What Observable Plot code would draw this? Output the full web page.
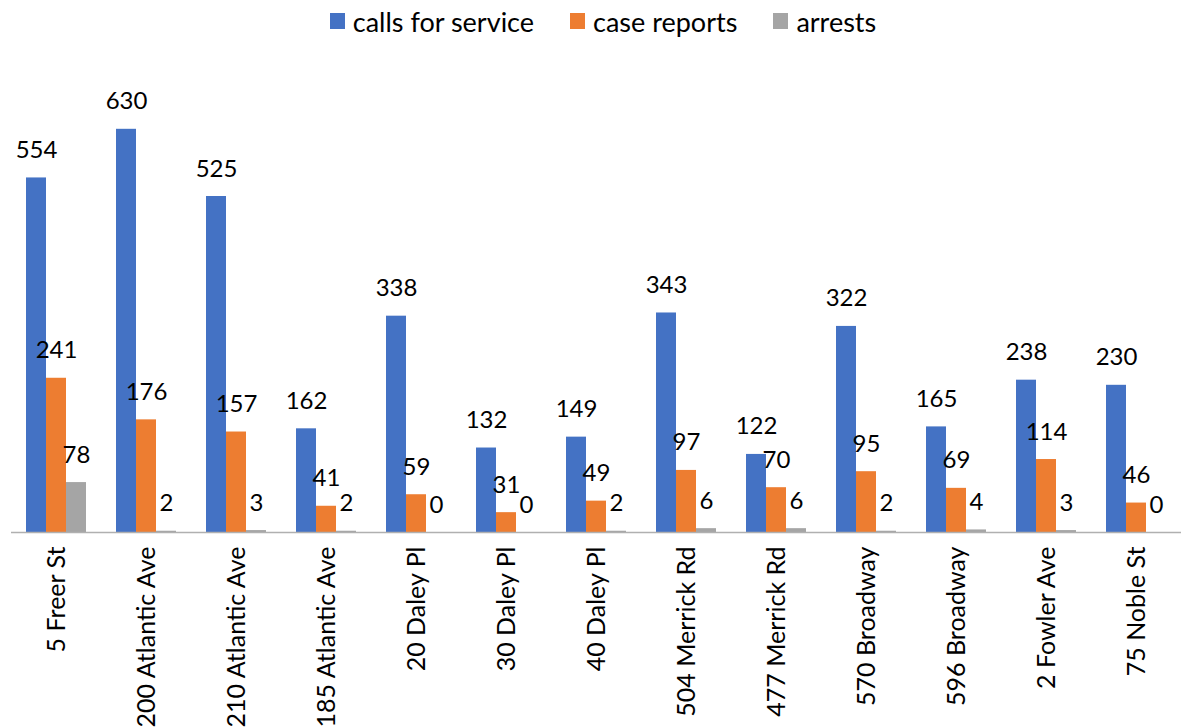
<!DOCTYPE html>
<html>
<head>
<meta charset="utf-8">
<script src="https://cdn.jsdelivr.net/npm/d3@7"></script>
<script src="https://cdn.jsdelivr.net/npm/@observablehq/plot@0.6"></script>
<style>
  html, body { margin: 0; padding: 0; background: #fff; }
  body { width: 1182px; height: 728px; overflow: hidden; font-family: Lato, "Open Sans", sans-serif; }
  #legend { height: 45px; display: flex; justify-content: center; align-items: center; padding-left: 24px; box-sizing: border-box; padding-bottom: 3px; }
  .item { display: flex; align-items: center; margin: 0 18px; font-size: 27px; color: #000; }
  .sw { width: 15px; height: 16px; margin-right: 8px; }
  #chart svg { display: block; }
</style>
</head>
<body>
<div id="legend"></div>
<div id="chart"></div>
<script>
const categories = ["5 Freer St","200 Atlantic Ave","210 Atlantic Ave","185 Atlantic Ave","20 Daley Pl","30 Daley Pl","40 Daley Pl","504 Merrick Rd","477 Merrick Rd","570 Broadway","596 Broadway","2 Fowler Ave","75 Noble St"];
const callsForService = [554,630,525,162,338,132,149,343,122,322,165,238,230];
const caseReports = [241,176,157,41,59,31,49,97,70,95,69,114,46];
const arrests = [78,2,3,2,0,0,2,6,6,2,4,3,0];
const seriesNames = ["calls for service","case reports","arrests"];
const seriesColors = ["#4472C4","#ED7D31","#A5A5A5"];

const seriesValues = [callsForService, caseReports, arrests];
const data = [];
categories.forEach((c, i) => {
  seriesNames.forEach((s, j) => data.push({category: c, series: s, value: seriesValues[j][i]}));
});

const legend = document.getElementById("legend");
seriesNames.forEach((s, j) => {
  const it = document.createElement("div");
  it.className = "item";
  const sw = document.createElement("div");
  sw.className = "sw";
  sw.style.background = seriesColors[j];
  const t = document.createElement("span");
  t.textContent = s;
  it.appendChild(sw); it.appendChild(t);
  legend.appendChild(it);
});

const chart = Plot.plot({
  width: 1182,
  height: 683,
  marginLeft: 7,
  marginRight: -3,
  marginTop: 39,
  marginBottom: 196,
  style: {fontFamily: "Lato, 'Open Sans', sans-serif", background: "#fff"},
  fx: {domain: categories, padding: 0, label: null, axis: null},
  x: {domain: seriesNames, paddingInner: 0, paddingOuter: 0.73, axis: null},
  y: {domain: [0, 700], axis: null},
  color: {domain: seriesNames, range: seriesColors},
  marks: [
    Plot.barY(data, {fx: "category", x: "series", y: "value", fill: "series"}),
    Plot.ruleY([0], {stroke: "#b0b0b0", strokeWidth: 1.5}),
    Plot.text(data, {fx: "category", x: "series", y: "value", text: d => String(d.value), lineAnchor: "bottom", dy: -20, fontSize: 24, fill: "#000"}),
    Plot.axisFx({anchor: "bottom", tickRotate: -90, tickSize: 0, tickPadding: 14, fontSize: 25, label: null, fill: "#000", lineWidth: Infinity, textOverflow: null})
  ]
});
document.getElementById("chart").appendChild(chart);
</script>
</body>
</html>
